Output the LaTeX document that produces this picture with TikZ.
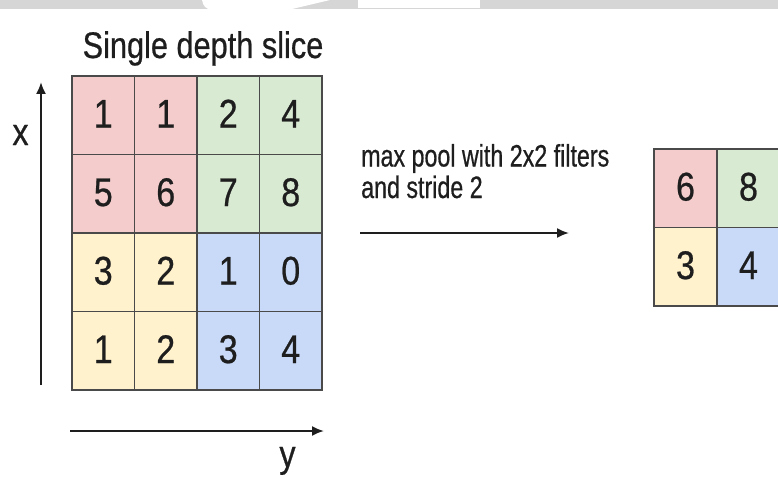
\documentclass[tikz,border=0pt]{standalone}
\usepackage{fontspec}
\setmainfont{Liberation Sans}
\newfontfamily\titlefont[FakeStretch=0.83,FakeBold=0.6]{Liberation Sans}
\newfontfamily\narrowfont[FakeStretch=0.85,FakeBold=0.6]{Liberation Sans}
\newfontfamily\midfont[FakeStretch=0.75,FakeBold=0.6]{Liberation Sans}
\usetikzlibrary{arrows.meta}
\definecolor{cred}{HTML}{F4CCCC}
\definecolor{cgreen}{HTML}{D9EAD3}
\definecolor{cyellow}{HTML}{FFF2CC}
\definecolor{cblue}{HTML}{C9DAF8}
\definecolor{gridgray}{HTML}{4A4A4A}
\definecolor{bandgray}{HTML}{D6D6D6}
\definecolor{ink}{HTML}{1E1E1E}
\begin{document}
\begin{tikzpicture}[x=1pt,y=-1pt,
  cell/.style={draw=gridgray, line width=1.5pt, minimum width=62.5pt, minimum height=78.5pt,
    inner sep=0pt, text height=28.6pt, text depth=4pt,
    font=\narrowfont\fontsize{40}{44}\selectfont, text=ink},
  axis/.style={line width=1.9pt, draw=ink, -{Latex[length=12pt,width=10pt]}},
  label/.style={inner sep=0pt, text=ink}]
\useasboundingbox (0,0) rectangle (778,476);
% top band (watermark strip)
\fill[bandgray] (0,0) rectangle (778,9.5);
\fill[white] (202,0) .. controls (203,6) and (206,9.5) .. (212,9.5) -- (290,9.5) -- (330,0) -- cycle;
\fill[white] (358,0) rectangle (480,8.5);
% title
\node[label, anchor=base, font=\titlefont\fontsize{37}{40}\selectfont] (title) at (203,58) {Single depth slice};
% left grid
\foreach \r/\c/\v/\col in {0/0/1/cred,0/1/1/cred,0/2/2/cgreen,0/3/4/cgreen,
  1/0/5/cred,1/1/6/cred,1/2/7/cgreen,1/3/8/cgreen,
  2/0/3/cyellow,2/1/2/cyellow,2/2/1/cblue,2/3/0/cblue,
  3/0/1/cyellow,3/1/2/cyellow,3/2/3/cblue,3/3/4/cblue}{
  \node[cell, fill=\col] (a\r\c) at ({103.25+62.5*\c},{115.25+78.5*\r}) {\v};
}
% right grid
\foreach \r/\c/\v/\col in {0/0/6/cred,0/1/8/cgreen,1/0/3/cyellow,1/1/4/cblue}{
  \node[cell, fill=\col, minimum width=63pt] (b\r\c) at ({685.5+63*\c},{188.25+78.5*\r}) {\v};
}
% axes
\coordinate (xs) at (41,385);
\coordinate (xe) at (41,82);
\draw[axis] (xs) -- (xe);
\node[label, anchor=base, font=\narrowfont\fontsize{38}{40}\selectfont] (xl) at (20.5,145) {x};
\coordinate (ys) at (70,431);
\coordinate (ye) at (324,431);
\draw[axis] (ys) -- (ye);
\node[label, anchor=base, font=\narrowfont\fontsize{38}{40}\selectfont] (yl) at (287.5,467) {y};
% middle text and arrow
\node[label, anchor=base west, font=\midfont\fontsize{31}{34}\selectfont] (mt) at (361,166.5) {max pool with 2x2 filters};
\node[label, anchor=base west, font=\midfont\fontsize{31}{34}\selectfont] (mt2) at (361,198) {and stride 2};
\coordinate (ms) at (360,233);
\coordinate (me) at (569,233);
\draw[axis] (ms) -- (me);
\end{tikzpicture}
\end{document}
